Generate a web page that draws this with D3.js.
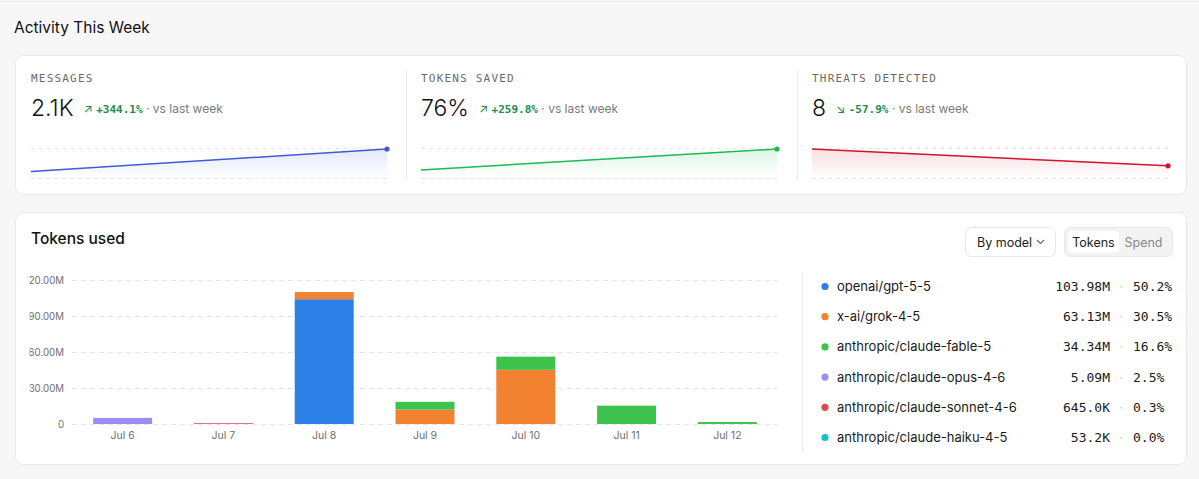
<!DOCTYPE html>
<html>
<head>
<meta charset="utf-8">
<script src="https://cdn.jsdelivr.net/npm/d3@7"></script>
<style>
  body { margin: 0; background: #f7f7f7; font-family: Inter, "Noto Sans", sans-serif; }
  svg { display: block; }
  .mono { font-family: "DejaVu Sans Mono", "Liberation Mono", monospace; }
</style>
</head>
<body>
<script>
// stat cards
const statLabels = ["MESSAGES", "TOKENS SAVED", "THREATS DETECTED"];
const statValues = ["2.1K", "76%", "8"];
const statDeltas = ["+344.1%", "+259.8%", "-57.9%"];
const statArrows = ["↗", "↗", "↘"];
// sparkline: [last week, this week]
const sparkMessages = [473, 2100];
const sparkSaved = [21.1, 76];
const sparkThreats = [19, 8];
const sparkColors = ["#3f5bd6", "#1db954", "#d0142a"];

// tokens used chart
const days = ["Jul 6", "Jul 7", "Jul 8", "Jul 9", "Jul 10", "Jul 11", "Jul 12"];
const models = ["openai/gpt-5-5", "x-ai/grok-4-5", "anthropic/claude-fable-5",
  "anthropic/claude-opus-4-6", "anthropic/claude-sonnet-4-6", "anthropic/claude-haiku-4-5"];
const modelColors = ["#2b7fe6", "#f28130", "#3dc24d", "#a08bf3", "#e5484d", "#19bfc6"];
// values in tokens, per day
const gpt = [0, 0, 103.98e6, 0, 0, 0, 0];
const grok = [0, 0, 6.0e6, 12.0e6, 45.13e6, 0, 0];
const fable = [0, 0, 0, 6.5e6, 11.0e6, 15.24e6, 1.6e6];
const opus = [5.09e6, 0, 0, 0, 0, 0, 0];
const sonnet = [0, 0.645e6, 0, 0, 0, 0, 0];
const haiku = [0, 0.0532e6, 0, 0, 0, 0, 0];
const yTicks = [0, 30e6, 60e6, 90e6, 120e6];

const W = 1199, H = 479;
const svg = d3.select("body").append("svg").attr("width", W).attr("height", H);

svg.append("line").attr("x1", 0).attr("x2", W).attr("y1", 1.5).attr("y2", 1.5)
  .attr("stroke", "#e9e9e9");

svg.append("text").attr("x", 14).attr("y", 33)
  .attr("font-size", 15.5).attr("fill", "#111").text("Activity This Week");

// cards
svg.append("rect").attr("x", 15.5).attr("y", 55.5).attr("width", 1171).attr("height", 139)
  .attr("rx", 8).attr("fill", "#fff").attr("stroke", "#e8e8e8");
svg.append("rect").attr("x", 15.5).attr("y", 212.5).attr("width", 1171).attr("height", 252)
  .attr("rx", 8).attr("fill", "#fff").attr("stroke", "#e8e8e8");

// ---- stat cards
const sparks = [sparkMessages, sparkSaved, sparkThreats];
const defs = svg.append("defs");
const cardX = [31, 421, 812];
const sparkW = 356;

sparks.forEach((s, i) => {
  const x0 = cardX[i];
  const g = svg.append("g");
  if (i > 0) {
    g.append("line").attr("x1", x0 - 14.5).attr("x2", x0 - 14.5).attr("y1", 70).attr("y2", 180)
      .attr("stroke", "#ececec");
  }
  g.append("text").attr("class", "mono").attr("x", x0).attr("y", 82)
    .attr("font-size", 11).attr("letter-spacing", 1.2).attr("fill", "#6b6b6b")
    .text(statLabels[i]);
  const big = g.append("text").attr("x", x0).attr("y", 115.5)
    .attr("font-size", 23).attr("font-weight", 300).attr("fill", "#111").text(statValues[i]);
  const bw = big.node().getComputedTextLength();
  const t = g.append("text").attr("x", x0 + bw + 10).attr("y", 113).attr("font-size", 12);
  t.append("tspan").attr("fill", "#1e8a4e").attr("font-size", 12).text(statArrows[i] + " ");
  t.append("tspan").attr("class", "mono").attr("fill", "#1e8a4e").attr("font-size", 11)
    .attr("font-weight", 600).text(statDeltas[i]);
  t.append("tspan").attr("fill", "#7a7a7a").text(" · vs last week");

  // sparkline
  const sx = d3.scaleLinear().domain([0, s.length - 1]).range([x0, x0 + sparkW]);
  const sy = d3.scaleLinear().domain([0, d3.max(s) * 1.035]).range([178, 148]);
  [148, 178].forEach(yy => {
    g.append("line").attr("x1", x0).attr("x2", x0 + sparkW).attr("y1", yy + 0.5).attr("y2", yy + 0.5)
      .attr("stroke", "#e6e6e6").attr("stroke-dasharray", "4 4");
  });
  const gid = "sg" + i;
  const grad = defs.append("linearGradient").attr("id", gid)
    .attr("x1", 0).attr("x2", 0).attr("y1", 0).attr("y2", 1);
  grad.append("stop").attr("offset", "0%").attr("stop-color", sparkColors[i]).attr("stop-opacity", 0.14);
  grad.append("stop").attr("offset", "100%").attr("stop-color", sparkColors[i]).attr("stop-opacity", 0);
  g.append("path").datum(s)
    .attr("d", d3.area().x((d, j) => sx(j)).y0(178).y1(d => sy(d)))
    .attr("fill", `url(#${gid})`);
  g.append("path").datum(s)
    .attr("d", d3.line().x((d, j) => sx(j)).y(d => sy(d)))
    .attr("fill", "none").attr("stroke", sparkColors[i]).attr("stroke-width", 1.5);
  g.append("circle").attr("cx", sx(s.length - 1)).attr("cy", sy(s[s.length - 1])).attr("r", 2.6)
    .attr("fill", sparkColors[i]);
});

// ---- tokens used
svg.append("text").attr("x", 31).attr("y", 243.5).attr("font-size", 15.5)
  .attr("font-weight", 500).attr("fill", "#111").text("Tokens used");

// controls
svg.append("rect").attr("x", 965.5).attr("y", 227.5).attr("width", 90).attr("height", 29)
  .attr("rx", 6).attr("fill", "#fff").attr("stroke", "#e6e6e6");
svg.append("text").attr("x", 977).attr("y", 246.5).attr("font-size", 12.5).attr("fill", "#222").text("By model");
svg.append("path").attr("d", "M1037,240 l3.5,3.5 l3.5,-3.5").attr("fill", "none")
  .attr("stroke", "#666").attr("stroke-width", 1.1);
svg.append("rect").attr("x", 1064.5).attr("y", 227.5).attr("width", 108).attr("height", 29)
  .attr("rx", 6).attr("fill", "#f3f3f3").attr("stroke", "#e8e8e8");
svg.append("rect").attr("x", 1068).attr("y", 231).attr("width", 51).attr("height", 22)
  .attr("rx", 4).attr("fill", "#fff");
svg.append("text").attr("x", 1093.5).attr("y", 246.5).attr("text-anchor", "middle")
  .attr("font-size", 12.5).attr("fill", "#222").text("Tokens");
svg.append("text").attr("x", 1143.5).attr("y", 246.5).attr("text-anchor", "middle")
  .attr("font-size", 12.5).attr("fill", "#888").text("Spend");

// chart
const table = days.map((d, i) => ({
  day: d,
  [models[0]]: gpt[i], [models[1]]: grok[i], [models[2]]: fable[i],
  [models[3]]: opus[i], [models[4]]: sonnet[i], [models[5]]: haiku[i]
}));
const stacked = d3.stack().keys(models)(table);
const color = d3.scaleOrdinal().domain(models).range(modelColors);

const x = d3.scaleBand().domain(days).range([72, 778]).paddingInner(0.415).paddingOuter(0.21);
const y = d3.scaleLinear().domain([0, 120e6]).range([424, 280]);

// the top tick label is cut by the card's left padding in the original
defs.append("clipPath").attr("id", "yclip").append("rect")
  .attr("x", 29.5).attr("y", 260).attr("width", 80).attr("height", 180);

svg.append("g").selectAll("line").data(yTicks).join("line")
  .attr("x1", 72).attr("x2", 778)
  .attr("y1", d => Math.round(y(d)) + 0.5).attr("y2", d => Math.round(y(d)) + 0.5)
  .attr("stroke", "#e4e4e4").attr("stroke-dasharray", "5 4");

const yAxis = svg.append("g").attr("clip-path", "url(#yclip)")
  .append("g").attr("transform", "translate(68,0)")
  .call(d3.axisLeft(y).tickValues(yTicks).tickSize(0).tickPadding(4)
    .tickFormat(d => d === 0 ? "0" : (d / 1e6).toFixed(2) + "M"));
yAxis.select(".domain").remove();
yAxis.selectAll("text").attr("font-family", "Inter, sans-serif").attr("font-size", 9.7).attr("fill", "#6f6f6f");

const xAxis = svg.append("g").attr("transform", "translate(0,424)")
  .call(d3.axisBottom(x).tickSize(0).tickPadding(8));
xAxis.select(".domain").remove();
xAxis.selectAll("text").attr("font-family", "Inter, sans-serif").attr("font-size", 10.5).attr("fill", "#6f6f6f");

svg.append("g").selectAll("g").data(stacked).join("g")
  .attr("fill", d => color(d.key))
  .selectAll("rect").data(d => d).join("rect")
  .attr("x", d => x(d.data.day))
  .attr("width", x.bandwidth())
  .attr("y", d => y(d[1]))
  .attr("height", d => y(d[0]) - y(d[1]));

// legend
svg.append("line").attr("x1", 802.5).attr("x2", 802.5).attr("y1", 272).attr("y2", 453).attr("stroke", "#ececec");

const totals = models.map((m, i) => d3.sum([gpt, grok, fable, opus, sonnet, haiku][i]));
const grand = d3.sum(totals);
const fmtTok = v => v >= 1e6 ? (v / 1e6).toFixed(2) + "M" : (v / 1e3).toFixed(1) + "K";

const rows = svg.append("g").selectAll("g").data(models).join("g")
  .attr("transform", (d, i) => `translate(0,${286.5 + i * 30.2})`);
rows.append("circle").attr("cx", 825).attr("cy", 0).attr("r", 3.6).attr("fill", d => color(d));
rows.append("text").attr("x", 837).attr("y", 4.5).attr("font-size", 13).attr("fill", "#1a1a1a").text(d => d);
rows.append("text").attr("class", "mono").attr("x", 1110).attr("y", 4.5).attr("text-anchor", "end")
  .attr("font-size", 13).attr("fill", "#1a1a1a").text((d, i) => fmtTok(totals[i]));
rows.append("text").attr("x", 1121).attr("y", 4.5).attr("text-anchor", "middle")
  .attr("font-size", 13).attr("fill", "#c8c8c8").text("·");
rows.append("text").attr("class", "mono").attr("x", 1133).attr("y", 4.5)
  .attr("font-size", 13).attr("fill", "#1a1a1a").text((d, i) => (totals[i] / grand * 100).toFixed(1) + "%");
</script>
</body>
</html>
